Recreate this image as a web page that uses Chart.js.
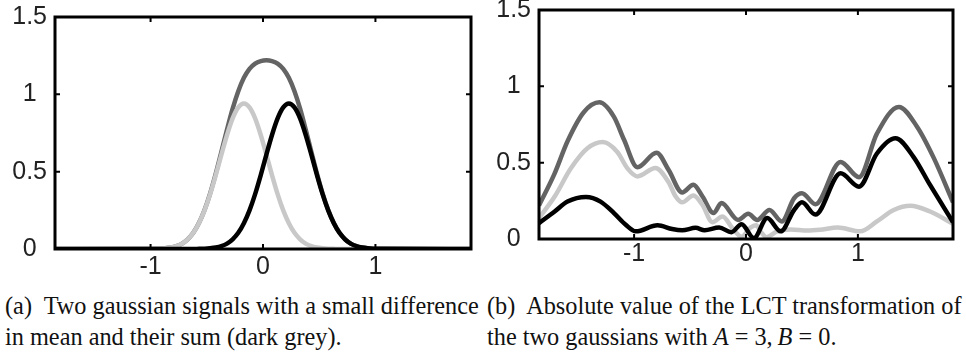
<!DOCTYPE html>
<html>
<head>
<meta charset="utf-8">
<script src="https://cdn.jsdelivr.net/npm/chart.js@4.4.0/dist/chart.umd.min.js"></script>
<style>
  html, body { margin: 0; padding: 0; background: #fff; }
  body { width: 966px; height: 352px; position: relative; overflow: hidden; }
  .panel { position: absolute; top: 0; }
  #leftBox { left: 0; width: 490px; height: 290px; }
  #rightBox { left: 490px; width: 476px; height: 290px; }
  .cap {
    position: absolute; top: 290px;
    font-family: "Liberation Serif", "DejaVu Serif", serif;
    font-size: 24.3px; line-height: 31px; color: #111; white-space: nowrap;
  }
</style>
</head>
<body>
<div class="panel" id="leftBox"><canvas id="left" width="490" height="290"></canvas></div>
<div class="panel" id="rightBox"><canvas id="right" width="476" height="290"></canvas></div>

<div class="cap" style="left:5px">(a)&nbsp; Two gaussian signals with a small difference<br>in mean and their sum (dark grey).</div>
<div class="cap" style="left:487px">(b)&nbsp; Absolute value of the LCT transformation of<br>the two gaussians with <i>A</i> = 3,&thinsp;<i>B</i> = 0.</div>

<script>
// tick labels
const xTicks = [-1, 0, 1];
const yTicks = [0, 0.5, 1, 1.5];

// (a) two gaussians and their sum
const gaussX = [-1.85,
  -0.97, -0.92, -0.87, -0.82, -0.77, -0.72, -0.67, -0.62, -0.57, -0.52,
  -0.47, -0.42, -0.37, -0.32, -0.27, -0.22, -0.17, -0.12, -0.07, -0.02,
  0.03, 0.08, 0.13, 0.18, 0.23, 0.28, 0.33, 0.38, 0.43, 0.48,
  0.53, 0.58, 0.63, 0.68, 0.73, 0.78, 0.83, 0.88, 0.93, 0.98,
  1.03, 1.85];
const gaussLeft = [0,
  0.001, 0.002, 0.005, 0.010, 0.019, 0.035, 0.063, 0.105, 0.167, 0.250,
  0.355, 0.478, 0.610, 0.737, 0.844, 0.915, 0.940, 0.915, 0.844, 0.737,
  0.610, 0.478, 0.355, 0.250, 0.167, 0.105, 0.063, 0.035, 0.019, 0.010,
  0.005, 0.002, 0.001, 0, 0, 0, 0, 0, 0, 0,
  0, 0];
const gaussRight = [0,
  0, 0, 0, 0, 0, 0, 0, 0, 0.001, 0.002,
  0.005, 0.010, 0.019, 0.035, 0.063, 0.105, 0.167, 0.250, 0.355, 0.478,
  0.610, 0.737, 0.844, 0.915, 0.940, 0.915, 0.844, 0.737, 0.610, 0.478,
  0.355, 0.250, 0.167, 0.105, 0.063, 0.035, 0.019, 0.010, 0.005, 0.002,
  0.001, 0];
const gaussSum = [0,
  0.001, 0.002, 0.005, 0.010, 0.019, 0.035, 0.063, 0.105, 0.168, 0.252,
  0.360, 0.488, 0.629, 0.772, 0.907, 1.020, 1.107, 1.165, 1.199, 1.215,
  1.220, 1.215, 1.199, 1.165, 1.107, 1.020, 0.907, 0.772, 0.629, 0.488,
  0.360, 0.252, 0.168, 0.105, 0.063, 0.035, 0.019, 0.010, 0.005, 0.002,
  0.001, 0];

// (b) |LCT| of the two gaussians and of their sum
const lctSumX = [-1.85, -1.71, -1.595, -1.45, -1.31, -1.18, -1.09, -0.97, -0.80, -0.69,
  -0.57, -0.47, -0.39, -0.29, -0.22, -0.07, 0.02, 0.10, 0.21, 0.32,
  0.43, 0.50, 0.62, 0.845, 1.01, 1.17, 1.366, 1.53, 1.68, 1.85];
const lctSumY = [0.22, 0.43, 0.64, 0.83, 0.895, 0.80, 0.65, 0.47, 0.565, 0.45,
  0.305, 0.355, 0.28, 0.17, 0.235, 0.125, 0.165, 0.125, 0.19, 0.115,
  0.267, 0.30, 0.228, 0.505, 0.405, 0.69, 0.865, 0.734, 0.528, 0.24];
const lctLeftX = [-1.85, -1.71, -1.565, -1.417, -1.28, -1.15, -1.06, -0.97, -0.81, -0.69,
  -0.63, -0.57, -0.47, -0.39, -0.30, -0.21, -0.12, -0.04, 0.04, 0.09,
  0.14, 0.18, 0.28, 0.40, 0.55, 0.66, 0.82, 1.02, 1.17, 1.32,
  1.47, 1.645, 1.85];
const lctLeftY = [0.137, 0.278, 0.463, 0.594, 0.635, 0.57, 0.463, 0.41, 0.465, 0.37,
  0.28, 0.24, 0.285, 0.224, 0.11, 0.147, 0.07, 0.015, 0.075, 0.09,
  0.04, 0.012, 0.05, 0.062, 0.055, 0.06, 0.075, 0.05, 0.115, 0.19,
  0.218, 0.18, 0.10];
const lctRightX = [-1.85, -1.71, -1.595, -1.43, -1.30, -1.18, -1.075, -0.985, -0.79, -0.66,
  -0.57, -0.45, -0.37, -0.24, -0.13, -0.04, 0.07, 0.19, 0.31, 0.43,
  0.50, 0.62, 0.845, 1.01, 1.17, 1.335, 1.495, 1.645, 1.85];
const lctRightY = [0.104, 0.18, 0.245, 0.275, 0.245, 0.17, 0.093, 0.05, 0.09, 0.065,
  0.057, 0.073, 0.057, 0.075, 0.045, 0.097, 0.006, 0.137, 0.05, 0.19,
  0.24, 0.16, 0.43, 0.343, 0.56, 0.66, 0.54, 0.354, 0.11];

const BLACK = '#000000', LIGHT = '#c8c8c8', DARK = '#646464';

const zip = (xs, ys) => xs.map((x, i) => ({ x: x, y: ys[i] }));

function line(xs, ys, color) {
  return {
    data: zip(xs, ys),
    borderColor: color,
    borderWidth: 4.5,
    pointRadius: 0,
    fill: false,
    cubicInterpolationMode: 'monotone',
  };
}

// box round the plot with inward ticks on all four sides
const framePlugin = {
  id: 'frame',
  afterDatasetsDraw(chart) {
    const { ctx, chartArea: a, scales } = chart;
    const tl = 5;
    ctx.save();
    ctx.strokeStyle = '#000';
    ctx.lineWidth = 2;
    ctx.beginPath();
    xTicks.forEach(v => {
      const px = scales.x.getPixelForValue(v);
      ctx.moveTo(px, a.bottom); ctx.lineTo(px, a.bottom - tl);
      ctx.moveTo(px, a.top); ctx.lineTo(px, a.top + tl);
    });
    yTicks.forEach(v => {
      const py = scales.y.getPixelForValue(v);
      ctx.moveTo(a.left, py); ctx.lineTo(a.left + tl, py);
      ctx.moveTo(a.right, py); ctx.lineTo(a.right - tl, py);
    });
    ctx.stroke();
    ctx.lineWidth = 3;
    ctx.strokeRect(a.left, a.top, a.right - a.left, a.bottom - a.top);
    ctx.restore();
  }
};

function makeChart(id, datasets, box) {
  const font = { family: "'Liberation Sans', Arial, sans-serif", size: 25 };
  return new Chart(document.getElementById(id), {
    type: 'line',
    data: { datasets: datasets },
    options: {
      responsive: false,
      animation: false,
      devicePixelRatio: 1,
      layout: { padding: { top: box.top, right: box.right, left: 0, bottom: 0 } },
      plugins: { legend: { display: false }, tooltip: { enabled: false } },
      scales: {
        x: {
          type: 'linear', min: -1.85, max: 1.85,
          afterBuildTicks: s => { s.ticks = xTicks.map(v => ({ value: v })); },
          grid: { display: false, drawTicks: false },
          border: { display: false },
          ticks: { font: font, color: '#222', padding: box.xPad, maxRotation: 0, callback: v => String(v) },
          afterFit: s => { s.height = box.xh; s.paddingLeft = 0; s.paddingRight = 0; },
        },
        y: {
          type: 'linear', min: 0, max: 1.5,
          afterBuildTicks: s => { s.ticks = yTicks.map(v => ({ value: v })); },
          grid: { display: false, drawTicks: false },
          border: { display: false },
          ticks: { font: font, color: '#222', padding: 8, crossAlign: 'center', callback: v => String(v) },
          afterFit: s => { s.width = box.yw; s.paddingTop = 0; s.paddingBottom = 0; },
        },
      },
    },
    plugins: [framePlugin],
  });
}

makeChart('left', [
  line(gaussX, gaussRight, BLACK),
  line(gaussX, gaussLeft, LIGHT),
  line(gaussX, gaussSum, DARK),
], { top: 17, right: 19, xh: 41, yw: 55, xPad: 3 });

makeChart('right', [
  line(lctRightX, lctRightY, BLACK),
  line(lctLeftX, lctLeftY, LIGHT),
  line(lctSumX, lctSumY, DARK),
], { top: 10, right: 13, xh: 51, yw: 49, xPad: 0 });
</script>
</body>
</html>
